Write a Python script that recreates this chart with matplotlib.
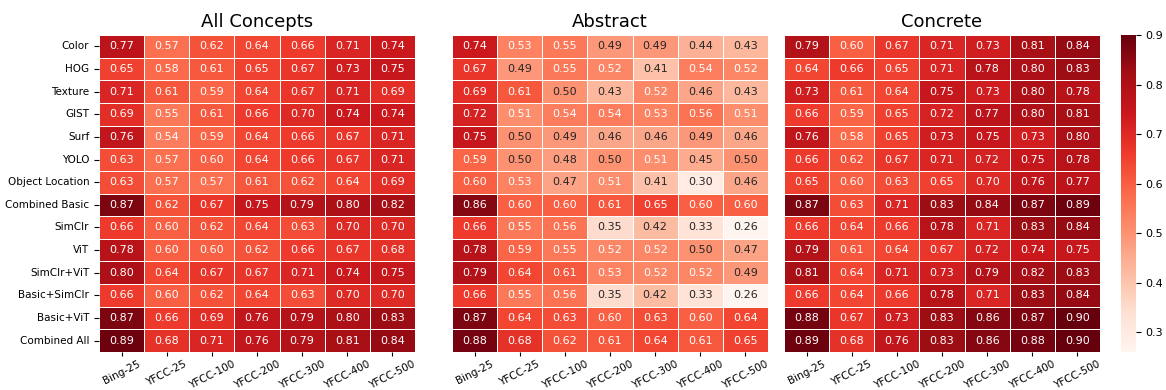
import matplotlib as mpl
import matplotlib.pyplot as plt
import numpy as np
import pandas as pd
import seaborn as sns

features = ['Color', 'HOG', 'Texture', 'GIST', 'Surf', 'YOLO', 'Object Location',
            'Combined Basic', 'SimClr', 'ViT', 'SimClr+ViT', 'Basic+SimClr',
            'Basic+ViT', 'Combined All']
datasets = ['Bing-25', 'YFCC-25', 'YFCC-100', 'YFCC-200', 'YFCC-300', 'YFCC-400', 'YFCC-500']

all_concepts = [
    [0.77, 0.57, 0.62, 0.64, 0.66, 0.71, 0.74],
    [0.65, 0.58, 0.61, 0.65, 0.67, 0.73, 0.75],
    [0.71, 0.61, 0.59, 0.64, 0.67, 0.71, 0.69],
    [0.69, 0.55, 0.61, 0.66, 0.70, 0.74, 0.74],
    [0.76, 0.54, 0.59, 0.64, 0.66, 0.67, 0.71],
    [0.63, 0.57, 0.60, 0.64, 0.66, 0.67, 0.71],
    [0.63, 0.57, 0.57, 0.61, 0.62, 0.64, 0.69],
    [0.87, 0.62, 0.67, 0.75, 0.79, 0.80, 0.82],
    [0.66, 0.60, 0.62, 0.64, 0.63, 0.70, 0.70],
    [0.78, 0.60, 0.60, 0.62, 0.66, 0.67, 0.68],
    [0.80, 0.64, 0.67, 0.67, 0.71, 0.74, 0.75],
    [0.66, 0.60, 0.62, 0.64, 0.63, 0.70, 0.70],
    [0.87, 0.66, 0.69, 0.76, 0.79, 0.80, 0.83],
    [0.89, 0.68, 0.71, 0.76, 0.79, 0.81, 0.84],
]

abstract = [
    [0.74, 0.53, 0.55, 0.49, 0.49, 0.44, 0.43],
    [0.67, 0.49, 0.55, 0.52, 0.41, 0.54, 0.52],
    [0.69, 0.61, 0.50, 0.43, 0.52, 0.46, 0.43],
    [0.72, 0.51, 0.54, 0.54, 0.53, 0.56, 0.51],
    [0.75, 0.50, 0.49, 0.46, 0.46, 0.49, 0.46],
    [0.59, 0.50, 0.48, 0.50, 0.51, 0.45, 0.50],
    [0.60, 0.53, 0.47, 0.51, 0.41, 0.30, 0.46],
    [0.86, 0.60, 0.60, 0.61, 0.65, 0.60, 0.60],
    [0.66, 0.55, 0.56, 0.35, 0.42, 0.33, 0.26],
    [0.78, 0.59, 0.55, 0.52, 0.52, 0.50, 0.47],
    [0.79, 0.64, 0.61, 0.53, 0.52, 0.52, 0.49],
    [0.66, 0.55, 0.56, 0.35, 0.42, 0.33, 0.26],
    [0.87, 0.64, 0.63, 0.60, 0.63, 0.60, 0.64],
    [0.88, 0.68, 0.62, 0.61, 0.64, 0.61, 0.65],
]

concrete = [
    [0.79, 0.60, 0.67, 0.71, 0.73, 0.81, 0.84],
    [0.64, 0.66, 0.65, 0.71, 0.78, 0.80, 0.83],
    [0.73, 0.61, 0.64, 0.75, 0.73, 0.80, 0.78],
    [0.66, 0.59, 0.65, 0.72, 0.77, 0.80, 0.81],
    [0.76, 0.58, 0.65, 0.73, 0.75, 0.73, 0.80],
    [0.66, 0.62, 0.67, 0.71, 0.72, 0.75, 0.78],
    [0.65, 0.60, 0.63, 0.65, 0.70, 0.76, 0.77],
    [0.87, 0.63, 0.71, 0.83, 0.84, 0.87, 0.89],
    [0.66, 0.64, 0.66, 0.78, 0.71, 0.83, 0.84],
    [0.79, 0.61, 0.64, 0.67, 0.72, 0.74, 0.75],
    [0.81, 0.64, 0.71, 0.73, 0.79, 0.82, 0.83],
    [0.66, 0.64, 0.66, 0.78, 0.71, 0.83, 0.84],
    [0.88, 0.67, 0.73, 0.83, 0.86, 0.87, 0.90],
    [0.89, 0.68, 0.76, 0.83, 0.86, 0.88, 0.90],
]

titles = ['All Concepts', 'Abstract', 'Concrete']

mpl.rc('font', family='DejaVu Sans')

fig = plt.figure(figsize=(11.66, 3.9), dpi=100)
W, H = 1166., 390.
bottom = 38 / H
height = 317 / H
lefts = [99, 452, 784]
axes = [fig.add_axes([l / W, bottom, 316 / W, height]) for l in lefts]
cax = fig.add_axes([1121 / W, bottom, 15 / W, height])

vmin, vmax = 0.26, 0.90
for i, (ax, vals, title) in enumerate(zip(axes, [all_concepts, abstract, concrete], titles)):
    df = pd.DataFrame(vals, index=features, columns=datasets)
    sns.heatmap(df, ax=ax, cmap='Reds', vmin=vmin, vmax=vmax, annot=True, fmt='.2f',
                annot_kws={'fontsize': 8}, linewidths=0.5, linecolor='white',
                cbar=(i == 2), cbar_ax=cax if i == 2 else None,
                yticklabels=(i == 0))
    ax.set_title(title, fontsize=13)
    ax.set_xticklabels(ax.get_xticklabels(), rotation=27, fontsize=7.5)
    ax.tick_params(axis='x', length=3, pad=2)
    if i == 0:
        ax.set_yticklabels(ax.get_yticklabels(), rotation=0, fontsize=7.5)
    else:
        ax.tick_params(axis='y', left=False)

cax.tick_params(labelsize=8)
cax.set_yticks([0.3, 0.4, 0.5, 0.6, 0.7, 0.8, 0.9])

plt.savefig('out.png', dpi=100)
